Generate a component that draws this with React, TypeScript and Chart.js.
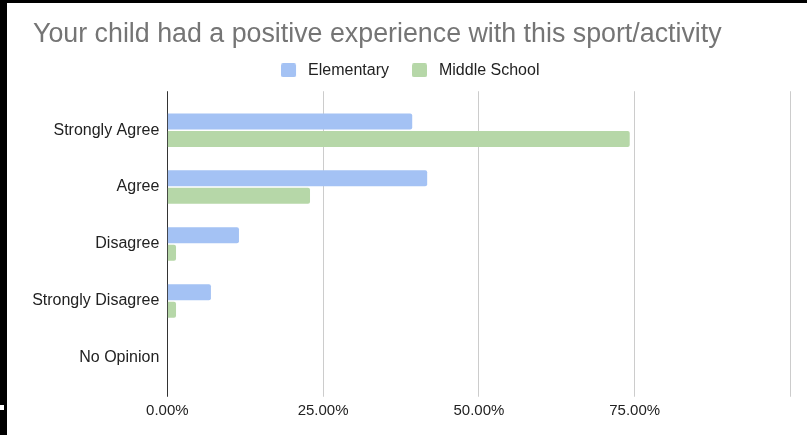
import React, { useEffect, useRef } from "react";
import { Chart, registerables } from "chart.js";

Chart.register(...registerables);
Chart.defaults.font.family = "'Liberation Sans', Arial, sans-serif";

const titleText = "Your child had a positive experience with this sport/activity";
const categories = ["Strongly Agree", "Agree", "Disagree", "Strongly Disagree", "No Opinion"];
const seriesNames = ["Elementary", "Middle School"];
const elementary = [39.3, 41.7, 11.5, 7.0, 0];
const middleSchool = [74.2, 22.9, 1.4, 1.4, 0];
const seriesColors = ["#a4c2f4", "#b6d7a8"];
const xTickValues = [0, 25, 50, 75, 100];
const xTickLabels = ["0.00%", "25.00%", "50.00%", "75.00%", ""];

function makeMarker(color: string) {
  const c = document.createElement("canvas");
  c.width = 22;
  c.height = 14;
  const g = c.getContext("2d")!;
  g.fillStyle = color;
  g.beginPath();
  if ((g as any).roundRect) (g as any).roundRect(0, 0, 15, 14, 2);
  else g.rect(0, 0, 15, 14);
  g.fill();
  return c;
}

const gridColor = (ctx: any) => (ctx.tick && ctx.tick.value === 0 ? "#333333" : "#cccccc");
const setTicks = (s: any) => {
  s.ticks = xTickValues.map((v) => ({ value: v }));
};

export default function App() {
  const ref = useRef<HTMLCanvasElement>(null);

  useEffect(() => {
    if (!ref.current) return;
    const markers = seriesColors.map(makeMarker);
    const chart = new Chart(ref.current, {
      type: "bar",
      data: {
        labels: categories,
        datasets: [
          {
            label: seriesNames[0],
            data: elementary,
            backgroundColor: seriesColors[0],
            borderRadius: 2,
            barPercentage: 0.914,
            categoryPercentage: 0.615,
          },
          {
            label: seriesNames[1],
            data: middleSchool,
            backgroundColor: seriesColors[1],
            borderRadius: 2,
            barPercentage: 0.914,
            categoryPercentage: 0.615,
          },
        ],
      },
      options: {
        animation: false,
        responsive: false,
        indexAxis: "y",
        layout: { padding: { left: 26, right: 16.5, top: 0, bottom: 9.05 } },
        plugins: {
          title: {
            display: true,
            text: titleText,
            align: "start",
            color: "#757575",
            font: { size: 26.8, weight: "normal", lineHeight: 0.1 },
            padding: { top: 30.4, bottom: 0.2 },
          },
          legend: {
            display: true,
            position: "top",
            align: "center",
            labels: {
              usePointStyle: true,
              pointStyleWidth: 16,
              padding: 26,
              color: "#222222",
              font: { size: 16 },
              generateLabels: (chart: any) =>
                Chart.defaults.plugins.legend.labels
                  .generateLabels(chart)
                  .map((it: any, i: number) => ({ ...it, pointStyle: markers[i] })),
            },
          },
          tooltip: { enabled: false },
        },
        scales: {
          x: {
            type: "linear",
            position: "bottom",
            min: 0,
            max: 100,
            afterBuildTicks: setTicks,
            grid: { color: gridColor, tickColor: gridColor, tickLength: 10.5, drawTicks: true },
            border: { display: false },
            ticks: {
              padding: 5.6,
              color: "#222222",
              font: { size: 15 },
              autoSkip: false,
              maxRotation: 0,
              callback: (_v: any, i: number) => xTickLabels[i] ?? "",
            },
          },
          x2: {
            type: "linear",
            position: "top",
            min: 0,
            max: 100,
            afterBuildTicks: setTicks,
            afterFit: (s: any) => {
              s.height = 13.45;
            },
            grid: { color: gridColor, tickColor: gridColor, tickLength: 10.5, drawOnChartArea: false, drawTicks: true },
            border: { display: false },
            ticks: { display: false },
          },
          y: {
            type: "category",
            grid: { display: false, drawTicks: false },
            border: { display: false },
            afterFit: (s: any) => {
              s.width = 134.3;
            },
            ticks: { padding: 8, color: "#222222", font: { size: 16 } },
          },
        },
      } as any,
    });
    return () => chart.destroy();
  }, []);

  return (
    <div style={{ position: "fixed", inset: 0, background: "#000" }}>
      <div style={{ position: "absolute", left: 7, top: 3, width: 800, height: 432, background: "#fff" }}>
        <canvas ref={ref} width={800} height={432} style={{ display: "block", width: 800, height: 432 }} />
      </div>
      <div style={{ position: "absolute", left: 0, top: 405, width: 4, height: 5, background: "#fff" }} />
    </div>
  );
}
